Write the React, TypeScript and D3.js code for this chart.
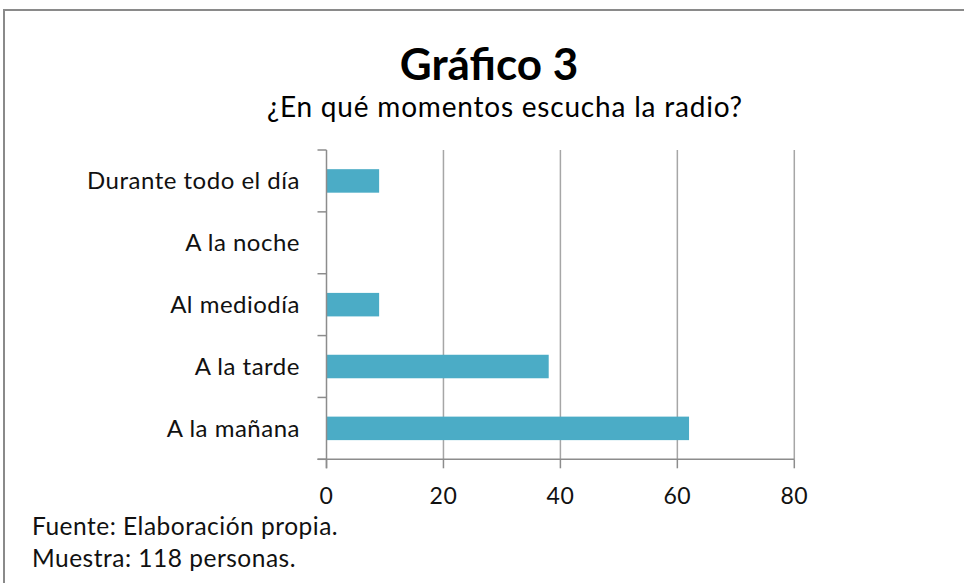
import React from "react";
import * as d3 from "d3";

const categories = ["Durante todo el día", "A la noche", "Al mediodía", "A la tarde", "A la mañana"];
const values = [9, 0, 9, 38, 62];
const xTicks = [0, 20, 40, 60, 80];

const title = "Gráfico 3";
const subtitle = "¿En qué momentos escucha la radio?";
const notes = ["Fuente: Elaboración propia.", "Muestra: 118 personas."];

const font = "Lato, 'Open Sans', sans-serif";

export default function App() {
  const width = 964;
  const height = 583;
  const plot = { left: 326.5, right: 794.3, top: 150, bottom: 459.3 };

  const x = d3.scaleLinear().domain([0, 80]).range([plot.left, plot.right]);
  const y = d3
    .scaleBand<string>()
    .domain(categories)
    .range([plot.top, plot.bottom])
    .paddingInner(0.62)
    .paddingOuter(0.31);

  const step = y.step();
  const catTicks = d3.range(categories.length + 1).map((i) => plot.top + i * step);

  return (
    <svg
      width={width}
      height={height}
      style={{ position: "absolute", left: 0, top: 0, background: "#fff" }}
    >
      <rect x={0} y={0} width={width} height={height} fill="#fff" />
      {/* frame */}
      <path d={`M4,${height} V10 H${width}`} fill="none" stroke="#8a8a8a" strokeWidth={2} />

      <text x={489} y={80} textAnchor="middle" fontFamily={font} fontWeight="bold" fontSize={44} fill="#000">
        {title}
      </text>
      <text x={505} y={117} textAnchor="middle" fontFamily={font} fontSize={28} letterSpacing={0.8} fill="#000">
        {subtitle}
      </text>

      {/* gridlines */}
      {xTicks.slice(1).map((t) => (
        <line key={t} x1={x(t)} x2={x(t)} y1={plot.top} y2={plot.bottom} stroke="#a6a6a6" strokeWidth={1.5} />
      ))}

      {/* bars */}
      {categories.map((c, i) =>
        values[i] > 0 ? (
          <rect
            key={c}
            x={x(0)}
            y={y(c)}
            width={x(values[i]) - x(0)}
            height={y.bandwidth()}
            fill="#4bacc6"
          />
        ) : null
      )}

      {/* axes */}
      <line x1={plot.left} x2={plot.left} y1={plot.top} y2={plot.bottom + 9} stroke="#8c8c8c" strokeWidth={1.5} />
      <line x1={plot.left - 9} x2={plot.right} y1={plot.bottom} y2={plot.bottom} stroke="#8c8c8c" strokeWidth={1.5} />
      {catTicks.map((t, i) => (
        <line key={i} x1={plot.left - 9} x2={plot.left} y1={t} y2={t} stroke="#8c8c8c" strokeWidth={1.5} />
      ))}
      {xTicks.map((t) => (
        <line key={t} x1={x(t)} x2={x(t)} y1={plot.bottom} y2={plot.bottom + 9} stroke="#8c8c8c" strokeWidth={1.5} />
      ))}

      {categories.map((c) => (
        <text
          key={c}
          x={300}
          y={(y(c) ?? 0) + y.bandwidth() / 2}
          dy="0.35em"
          textAnchor="end"
          fontFamily={font}
          fontSize={24}
          letterSpacing={0.5}
          fill="#111"
        >
          {c}
        </text>
      ))}

      {xTicks.map((t) => (
        <text key={t} x={x(t)} y={504} textAnchor="middle" fontFamily={font} fontSize={23} letterSpacing={0.5} fill="#111">
          {t}
        </text>
      ))}

      {notes.map((n, i) => (
        <text key={n} x={32} y={535 + i * 32} fontFamily={font} fontSize={24.5} letterSpacing={0.5} fill="#111">
          {n}
        </text>
      ))}
    </svg>
  );
}
